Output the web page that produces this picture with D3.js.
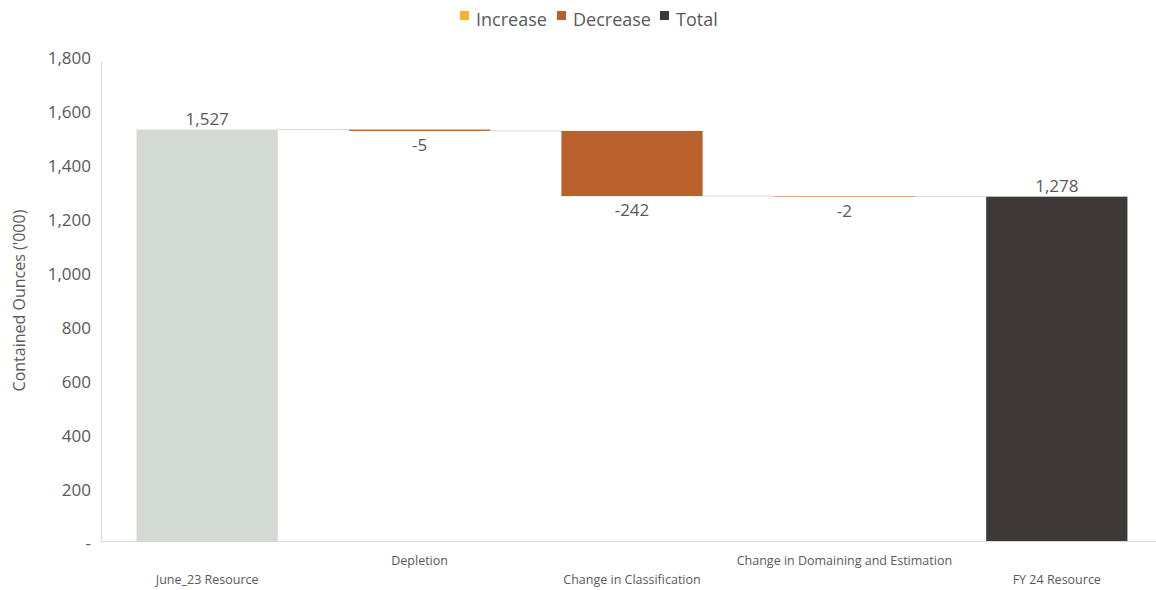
<!DOCTYPE html>
<html>
<head>
<meta charset="utf-8">
<script src="https://cdn.jsdelivr.net/npm/d3@7"></script>
<style>
  html, body { margin: 0; padding: 0; background: #ffffff; }
  svg { display: block; font-family: "Open Sans", "Noto Sans", sans-serif; }
</style>
</head>
<body>
<svg id="chart" width="1156" height="590"></svg>
<script>
// Resource reconciliation, contained ounces ('000)
const categories = ["June_23 Resource", "Depletion", "Change in Classification", "Change in Domaining and Estimation", "FY 24 Resource"];
const values = [1527, -5, -242, -2, 1278];
const kinds = ["total", "decrease", "decrease", "decrease", "total"];
const valueLabels = ["1,527", "-5", "-242", "-2", "1,278"];
const yTicks = [0, 200, 400, 600, 800, 1000, 1200, 1400, 1600, 1800];
const legendItems = ["Increase", "Decrease", "Total"];

const colors = { increase: "#F7B12B", decrease: "#BA602A", total: "#3E3838", start: "#D3DAD3" };
const textColor = "#595959";

const svg = d3.select("#chart");

const x = d3.scaleBand().domain(categories).range([101, 1163]).paddingInner(0.335).paddingOuter(0.1675);
const y = d3.scaleLinear().domain([0, 1800]).range([541, 56]);

// Waterfall segments
let running = 0;
const bars = values.map((v, i) => {
  let y0, y1;
  if (kinds[i] === "total") { y0 = 0; y1 = v; running = v; }
  else { y0 = running; y1 = running + v; running = y1; }
  return { cat: categories[i], v, kind: kinds[i], y0, y1, i, label: valueLabels[i] };
});

// Axis lines
svg.append("line").attr("x1", 101.5).attr("x2", 101.5).attr("y1", 62).attr("y2", y(0))
  .attr("stroke", "#D9D9D9").attr("stroke-width", 1);
svg.append("line").attr("x1", 101).attr("x2", 1156).attr("y1", y(0) + 0.5).attr("y2", y(0) + 0.5)
  .attr("stroke", "#D9D9D9").attr("stroke-width", 1);

// Y axis
const yAxis = d3.axisLeft(y).tickValues(yTicks).tickSize(0).tickPadding(10)
  .tickFormat(d => d === 0 ? "-" : d3.format(",")(d));
const gy = svg.append("g").attr("transform", "translate(101,2)").call(yAxis);
gy.select(".domain").remove();
gy.selectAll("text").attr("fill", textColor).attr("font-size", 17).attr("dy", "0.35em")
  .attr("font-family", "'Open Sans', sans-serif");

svg.append("text")
  .attr("transform", `translate(25,${(y(0) + y(1800)) / 2 + 2}) rotate(-90)`)
  .attr("text-anchor", "middle").attr("fill", textColor).attr("font-size", 16)
  .text("Contained Ounces ('000)");

// Connector lines between consecutive bars
for (let i = 0; i < bars.length - 1; i++) {
  const level = bars[i].y1;
  svg.append("line")
    .attr("x1", x(bars[i].cat) + x.bandwidth()).attr("x2", x(bars[i + 1].cat))
    .attr("y1", y(level)).attr("y2", y(level))
    .attr("stroke", "#D9D9D9").attr("stroke-width", 1);
}

// Bars
svg.append("g").selectAll("rect").data(bars).join("rect")
  .attr("x", d => x(d.cat))
  .attr("width", x.bandwidth())
  .attr("y", d => y(Math.max(d.y0, d.y1)))
  .attr("height", d => Math.abs(y(d.y0) - y(d.y1)))
  .attr("fill", d => d.kind === "total" ? (d.i === 0 ? colors.start : colors.total) : colors[d.kind]);

// Value labels: totals above, decreases below
svg.append("g").selectAll("text").data(bars).join("text")
  .attr("x", d => x(d.cat) + x.bandwidth() / 2)
  .attr("y", d => d.kind === "decrease" ? y(Math.min(d.y0, d.y1)) + 20 : y(Math.max(d.y0, d.y1)) - 5)
  .attr("text-anchor", "middle").attr("fill", textColor).attr("font-size", 17)
  .text(d => d.label);

// Category labels, staggered on two rows
svg.append("g").selectAll("text").data(categories).join("text")
  .attr("x", d => x(d) + x.bandwidth() / 2)
  .attr("y", (d, i) => i % 2 === 0 ? 584 : 565)
  .attr("text-anchor", "middle").attr("fill", textColor).attr("font-size", 12.5)
  .text(d => d);

// Legend
const legendColors = [colors.increase, colors.decrease, colors.total];
const lg = svg.append("g");
const lx = [460, 557, 660];
legendItems.forEach((t, i) => {
  lg.append("rect").attr("x", lx[i]).attr("y", 11).attr("width", 9).attr("height", 9).attr("fill", legendColors[i]);
  lg.append("text").attr("x", lx[i] + 16).attr("y", 26).attr("fill", textColor).attr("font-size", 18).text(t);
});
</script>
</body>
</html>
